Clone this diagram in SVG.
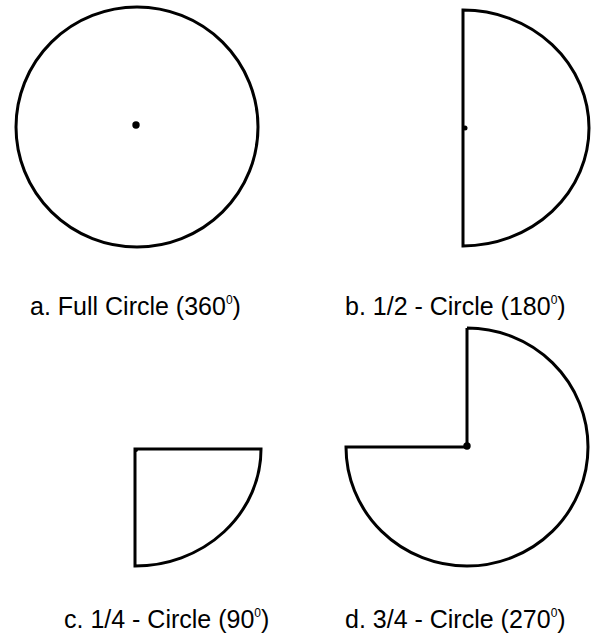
<svg xmlns="http://www.w3.org/2000/svg" width="592" height="635" viewBox="0 0 592 635">
<style>
.shape{fill:none;stroke:#000;stroke-width:3;stroke-linejoin:miter}
.dot{fill:#000}
.lbl{font-family:"Liberation Sans",Arial,sans-serif;font-size:25px;fill:#000}
.sup{font-size:12px}
</style>
<rect width="592" height="635" fill="#fff"/>
<g id="full-circle">
<ellipse class="shape" cx="137" cy="127" rx="121" ry="120"/>
<circle class="dot" cx="136" cy="125" r="3.7"/>
<text class="lbl" x="30" y="315">a. Full Circle (360<tspan class="sup" dy="-11">0</tspan><tspan dy="11">)</tspan></text>
</g>
<g id="half-circle">
<path class="shape" d="M463,10 L463,246 A126,118 0 0 0 463,10 Z"/>
<circle class="dot" cx="465" cy="128" r="2.5"/>
<text class="lbl" x="345" y="315">b. 1/2 - Circle (180<tspan class="sup" dy="-11">0</tspan><tspan dy="11">)</tspan></text>
</g>
<g id="quarter-circle">
<path class="shape" d="M135,449 H261 A126,117 0 0 1 135,566 Z"/>
<circle class="dot" cx="136" cy="450" r="2"/>
<text class="lbl" x="64" y="628">c. 1/4 - Circle (90<tspan class="sup" dy="-11">0</tspan><tspan dy="11">)</tspan></text>
</g>
<g id="three-quarter-circle">
<path class="shape" d="M467,328 V447 H346 A121,119 0 1 0 467,328"/>
<circle class="dot" cx="467" cy="446" r="3.7"/>
<text class="lbl" x="345" y="628">d. 3/4 - Circle (270<tspan class="sup" dy="-11">0</tspan><tspan dy="11">)</tspan></text>
</g>
<g id="connectors"/>
</svg>
